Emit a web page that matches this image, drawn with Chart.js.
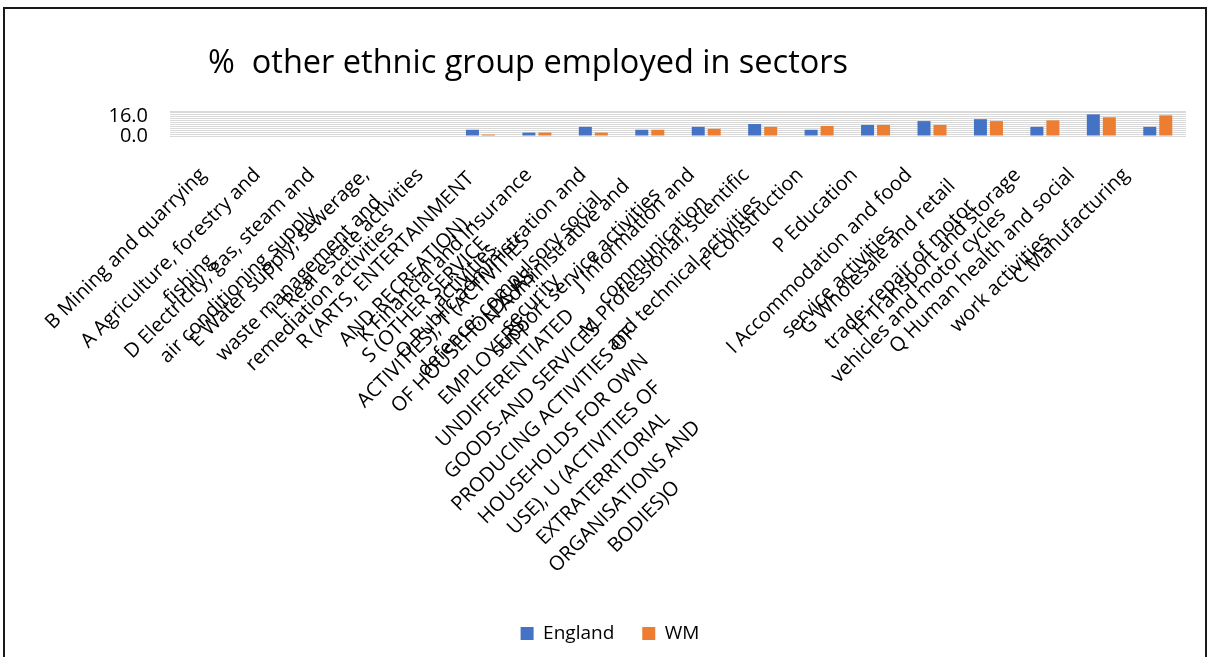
<!DOCTYPE html>
<html>
<head>
<meta charset="utf-8">
<script src="https://cdn.jsdelivr.net/npm/chart.js@4.4.0/dist/chart.umd.min.js"></script>
<style>
  body { margin: 0; background: #fff; }
  #frame {
    position: absolute;
    left: 3px;
    top: 7px;
    width: 1200px;
    height: 656px;
    border: 2px solid #1a1a1a;
  }
</style>
</head>
<body>
<div id="frame"><canvas id="chart"></canvas></div>
<script>
// sectors, wrapped the way the original axis wraps them
const sectors = [
	["B Mining and quarrying"],
	["A Agriculture, forestry and", "fishing"],
	["D Electricity, gas, steam and", "air conditioning supply"],
	["E Water supply; sewerage,", "waste management and", "remediation activities"],
	["L Real estate activities"],
	[
		"R (ARTS, ENTERTAINMENT",
		"AND RECREATION),",
		"S (OTHER SERVICE",
		"ACTIVITIES), T (ACTIVITIES",
		"OF HOUSEHOLDS AS",
		"EMPLOYERS;",
		"UNDIFFERENTIATED",
		"GOODS-AND SERVICES-",
		"PRODUCING ACTIVITIES OF",
		"HOUSEHOLDS FOR OWN",
		"USE), U (ACTIVITIES OF",
		"EXTRATERRITORIAL",
		"ORGANISATIONS AND",
		"BODIES)O",
	],
	["K Financial and insurance", "activities"],
	["O Public administration and", "defence; compulsory social", "security"],
	["N Administrative and", "support service activities"],
	["J Information and", "communication"],
	["M Professional, scientific", "and technical activities"],
	["F Construction"],
	["P Education"],
	["I Accommodation and food", "service activities"],
	["G Wholesale and retail", "trade; repair of motor", "vehicles and motor cycles"],
	["H Transport and storage"],
	["Q Human health and social", "work activities"],
	["C Manufacturing"],
];

const england = [0, 0, 0, 0.4, 0.4, 5.2, 2.8, 7.6, 5.2, 7.6, 10, 5.2, 9.2, 12.4, 14, 7.6, 18, 7.6];
const wm = [0, 0, 0, 0, 0, 1.2, 2.8, 2.8, 5.2, 6.0, 7.6, 8.4, 9.2, 9.2, 12.4, 13, 15.6, 17.2];

const yLabelled = [0, 16];

const titleText = "%  other ethnic group employed in sectors";

const labelFont = { family: "Open Sans", size: 20, lineHeight: 1.4 };

// the original centres each wrapped line; Chart.js right-aligns rotated
// labels, so pad the shorter lines with no-break spaces
const measure = document.createElement("canvas").getContext("2d");
measure.font = `${labelFont.size}px "${labelFont.family}"`;
const nbspWidth = measure.measureText("\u00a0").width;
const centredLabels = sectors.map((lines) => {
	const widths = lines.map((l) => measure.measureText(l).width);
	const widest = Math.max(...widths);
	return lines.map(
		(l, k) => l + "\u00a0".repeat(Math.round((widest - widths[k]) / 2 / nbspWidth))
	);
});

const leftTitle = {
	id: "leftTitle",
	afterDraw(chart, args, opts) {
		const ctx = chart.ctx;
		ctx.save();
		ctx.font = opts.font;
		ctx.fillStyle = "#000";
		ctx.textBaseline = "middle";
		ctx.fillText(opts.text, chart.chartArea.left + opts.dx, opts.y);
		ctx.restore();
	},
};

const ctx = document.getElementById("chart").getContext("2d");

const chart = new Chart(ctx, {
	type: "bar",
	data: {
		labels: sectors.map((s) => s.join(" ")),
		datasets: [
			{
				label: "England",
				data: england,
				backgroundColor: "#4472C4",
			},
			{
				label: "WM",
				data: wm,
				backgroundColor: "#ED7D31",
			},
		],
	},
	options: {
		responsive: true,
		maintainAspectRatio: false,
		animation: false,
		categoryPercentage: 0.567,
		barPercentage: 0.8125,
		layout: {
			padding: { top: 102, left: 10, right: 0, bottom: 12 },
		},
		scales: {
			x: {
				display: false,
			},
			// label-only axis: the original spaces its labels a little tighter
			// than its bars, so the labels get their own scale
			sector: {
				type: "linear",
				position: "bottom",
				offset: false,
				min: -0.608,
				max: 18.107,
				grid: { display: false },
				border: { display: false },
				afterBuildTicks(scale) {
					scale.ticks = sectors.map((s, i) => ({ value: i }));
				},
				ticks: {
					color: "#000",
					font: labelFont,
					minRotation: 45,
					maxRotation: 45,
					autoSkip: false,
					padding: 18,
					callback: (v) => centredLabels[v],
				},
				afterFit(scale) {
					scale.height = 460;
					scale.paddingLeft = 0;
					scale.paddingRight = 0;
				},
			},
			y: {
				min: 0,
				max: 20.8,
				grid: { color: "#d9d9d9", drawTicks: false },
				border: { display: false },
				ticks: {
					stepSize: 1.6,
					autoSkip: false,
					padding: 22,
					color: "#000",
					font: { family: "Open Sans", size: 20 },
					callback: (v) =>
						yLabelled.some((t) => Math.abs(t - v) < 1e-6) ? v.toFixed(1) : "",
				},
				afterFit(scale) {
					scale.width = 155;
				},
			},
			// empty right-hand strip so the plot stops where the original does
			edge: {
				position: "right",
				grid: { display: false },
				border: { display: false },
				ticks: { display: false },
				afterFit(scale) {
					scale.width = 19;
				},
			},
		},
		plugins: {
			legend: {
				position: "bottom",
				labels: {
					boxWidth: 13,
					boxHeight: 13,
					padding: 28,
					color: "#000",
					font: { family: "Open Sans", size: 19 },
				},
			},
			tooltip: { enabled: false },
			leftTitle: {
				text: titleText,
				font: '32.5px "Open Sans"',
				dx: 38,
				y: 55,
			},
		},
	},
	plugins: [leftTitle],
});
</script>
</body>
</html>
